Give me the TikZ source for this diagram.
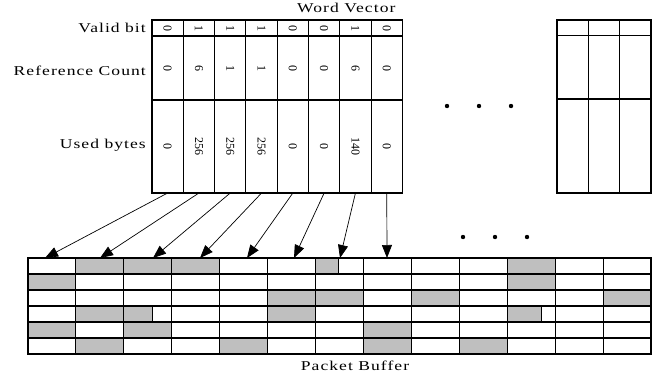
\documentclass[tikz,border=0pt]{standalone}
\usepackage{fontspec}
\setmainfont{Liberation Serif}
\newfontfamily\lblfont[LetterSpace=6]{Liberation Serif}
\usetikzlibrary{arrows.meta}
\newcommand\widetxt[1]{\scalebox{1.3}[1]{#1}}
\tikzset{
  lbl/.style={font=\lblfont\fontsize{13.5}{15}\selectfont, inner sep=0pt},
  num/.style={font=\fontsize{12}{14}\selectfont, rotate=-90, inner sep=0pt},
  tbl/.style={draw=black, line width=1.1pt},
  grey/.style={fill=black!25},
  arr/.style={line width=0.7pt, -{Triangle[length=13pt,width=10pt]}},
  dot/.style={fill=black}
}
\begin{document}
\begin{tikzpicture}[x=1pt,y=-1pt]
\useasboundingbox (0,0) rectangle (663,378);
% ---------- Word vector ----------
\def\wx{152}\def\ww{31.3}
\draw[tbl] (\wx,20) rectangle ({\wx+8*\ww},193);
\foreach \i in {1,...,7} \draw[tbl] ({\wx+\i*\ww},20) -- ({\wx+\i*\ww},193);
\draw[tbl] (\wx,36) -- ({\wx+8*\ww},36);
\draw[tbl] (\wx,100) -- ({\wx+8*\ww},100);
\node[lbl, anchor=east] (lvalid) at (146,28) {\widetxt{Valid bit}};
\node[lbl, anchor=east] (lref) at (146,71) {\widetxt{Reference Count}};
\node[lbl, anchor=east] (lused) at (146,145) {\widetxt{Used bytes}};
\node[lbl, anchor=west] (wv) at (297,8) {\widetxt{Word Vector}};
\foreach \v [count=\k from 0] in {0,1,1,1,0,0,1,0}
  \node[num] (v\k) at ({\wx+\k*\ww+\ww/2},28) {\v};
\foreach \v [count=\k from 0] in {0,6,1,1,0,0,6,0}
  \node[num] (r\k) at ({\wx+\k*\ww+\ww/2},68) {\v};
\foreach \v [count=\k from 0] in {0,256,256,256,0,0,140,0}
  \node[num] (u\k) at ({\wx+\k*\ww+\ww/2},146) {\v};
% ---------- right block ----------
\draw[tbl] (557,20) rectangle (651,193);
\draw[tbl] (588.3,20) -- (588.3,193);
\draw[tbl] (619.7,20) -- (619.7,193);
\draw[tbl] (557,35.5) -- (651,35.5);
\draw[tbl] (557,99) -- (651,99);
% ---------- dots ----------
\foreach \x in {447,479,511} \fill[dot] (\x,106) circle (2.2);
\foreach \x in {463,495,527} \fill[dot] (\x,237) circle (2.2);
% ---------- packet buffer ----------
\def\bx{28}\def\bw{47.923}\def\by{258}\def\bh{16}
\foreach \c/\r in {1/0,2/0,3/0,10/0,0/1,10/1,5/2,6/2,8/2,12/2,1/3,5/3,0/4,2/4,7/4,1/5,4/5,7/5,9/5}
  \fill[grey] ({\bx+\c*\bw},{\by+\r*\bh}) rectangle ({\bx+(\c+1)*\bw},{\by+(\r+1)*\bh});
\foreach \c/\r/\f in {6/0/0.48,2/3/0.6,10/3/0.71}{
  \fill[grey] ({\bx+\c*\bw},{\by+\r*\bh}) rectangle ({\bx+(\c+\f)*\bw},{\by+(\r+1)*\bh});
  \draw[tbl] ({\bx+(\c+\f)*\bw},{\by+\r*\bh}) -- ({\bx+(\c+\f)*\bw},{\by+(\r+1)*\bh});
}
\draw[tbl] (\bx,\by) rectangle ({\bx+13*\bw},{\by+6*\bh});
\foreach \i in {1,...,12} \draw[tbl] ({\bx+\i*\bw},\by) -- ({\bx+\i*\bw},{\by+6*\bh});
\foreach \j in {1,...,5} \draw[tbl] (\bx,{\by+\j*\bh}) -- ({\bx+13*\bw},{\by+\j*\bh});
\node[lbl] (pb) at (355,366) {\widetxt{Packet Buffer}};
% ---------- arrows ----------
\foreach \i/\t in {0/45,1/100,2/153,3/200,4/247,5/294,6/340,7/387}{
  \coordinate (s\i) at ({\wx+\i*\ww+\ww/2},193);
  \coordinate (t\i) at (\t,258);
  \draw[arr] (s\i) -- (t\i);
}
\end{tikzpicture}
\end{document}
